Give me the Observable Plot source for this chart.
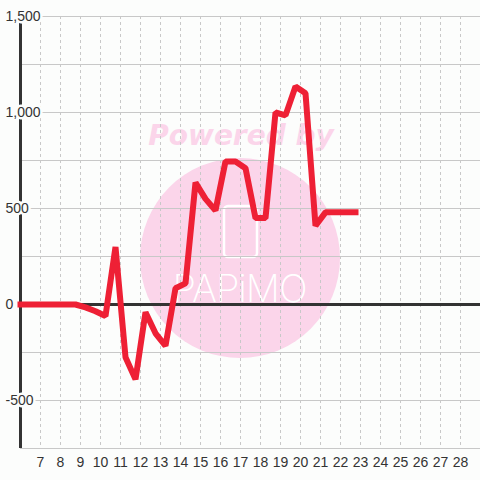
<!DOCTYPE html>
<html>
<head>
<meta charset="utf-8">
<script src="https://cdn.jsdelivr.net/npm/d3@7"></script>
<script src="https://cdn.jsdelivr.net/npm/@observablehq/plot@0.6"></script>
<style>
  html, body { margin: 0; padding: 0; background: #fcfdfc; }
  #chart { width: 480px; height: 480px; }
</style>
</head>
<body>
<div id="chart"></div>
<script>
// ---- data ----
const xValues = [6, 8.75, 9.25, 9.75, 10.25, 10.75, 11.25, 11.75, 12.25, 12.75, 13.25, 13.75, 14.25, 14.75, 15.25, 15.75, 16.25, 16.75, 17.25, 17.75, 18.25, 18.75, 19.25, 19.75, 20.25, 20.75, 21.25, 21.75, 22.25, 22.75];
const seriesValues = [0, 0, -15, -35, -60, 300, -275, -390, -40, -150, -215, 85, 110, 635, 550, 490, 745, 745, 710, 450, 450, 1000, 985, 1135, 1100, 410, 480, 480, 480, 480];
const xTickLabels = [7, 8, 9, 10, 11, 12, 13, 14, 15, 16, 17, 18, 19, 20, 21, 22, 23, 24, 25, 26, 27, 28];
const yTickLabels = [-500, 0, 500, 1000, 1500];
const yGridValues = [-750, -500, -250, 0, 250, 500, 750, 1000, 1250, 1500];

const data = xValues.map((x, i) => ({x, y: seriesValues[i]}));
const bg = "#fcfdfc";
const font = "'Liberation Sans', Arial, sans-serif";

const chart = Plot.plot({
  width: 480,
  height: 480,
  marginLeft: 20,
  marginRight: 0,
  marginTop: 16,
  marginBottom: 32,
  style: {background: bg, fontFamily: font, fontSize: "14px", color: "#333"},
  x: {domain: [6, 29], axis: null},
  y: {domain: [-750, 1500], axis: null},
  marks: [
    Plot.ruleY(yGridValues, {stroke: "#c8c8c8", strokeWidth: 1}),
    Plot.ruleX(xTickLabels, {stroke: "#c8c8c8", strokeWidth: 1, strokeDasharray: "3,3"}),
    Plot.ruleX([6], {stroke: "#333", strokeWidth: 3}),
    Plot.ruleY([0], {stroke: "#333", strokeWidth: 3}),
    Plot.axisX(xTickLabels, {tickSize: 0, tickPadding: 9, fontSize: 14, fill: "#333", label: null, tickFormat: d => String(d)}),
    Plot.text(yTickLabels, {
      y: d => d,
      text: d => d.toLocaleString("en-US"),
      frameAnchor: "left",
      dx: -15,
      textAnchor: "start",
      fontSize: 14,
      fill: "#333",
      stroke: bg,
      strokeWidth: 5,
      paintOrder: "stroke"
    }),
    Plot.line(data, {x: "x", y: "y", stroke: "#ee2035", strokeWidth: 6, strokeLinecap: "square", strokeLinejoin: "miter"})
  ]
});

// decorative watermark (not data), drawn behind everything
const ns = "http://www.w3.org/2000/svg";
const wm = document.createElementNS(ns, "g");
wm.innerHTML = `
  <circle cx="240" cy="258" r="100" fill="#fbd5ea"></circle>
  <text x="241" y="145" text-anchor="middle" font-family="'DejaVu Sans', sans-serif" font-weight="bold" font-style="italic" font-size="28" fill="#fbd5ea">Powered by</text>
  <rect x="224" y="206" width="33" height="51" rx="4" fill="none" stroke="#ffffff" stroke-width="2.5"></rect>
  <text x="240" y="302" text-anchor="middle" font-family="Inter, 'DejaVu Sans', sans-serif" font-weight="200" font-size="38" fill="#ffffff" textLength="135" lengthAdjust="spacing">PAPiMO</text>
`;
chart.insertBefore(wm, chart.querySelector("g"));

document.getElementById("chart").appendChild(chart);
</script>
</body>
</html>
